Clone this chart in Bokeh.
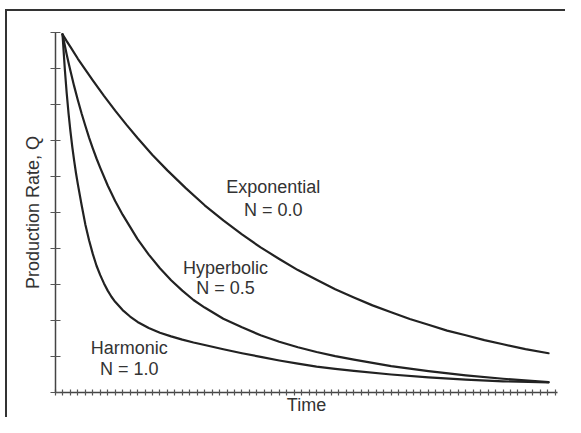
from bokeh.plotting import figure
from bokeh.models import FixedTicker, Range1d, ColumnDataSource, CustomLabelingPolicy
from bokeh.core.properties import value
from bokeh.embed import file_html
from bokeh.resources import INLINE

# ---- data (time units, production-rate units) ----
t_exp = [0.94, 1.5, 2, 3, 4, 5, 6.5, 8, 9.5, 11, 13, 15, 17.5, 20, 22.5, 25, 27.5, 30, 32.5,
         35, 37.5, 40, 42.5, 45, 47.5, 50, 52.5, 55, 57.5, 60, 63, 66.1]
q_exp = [9.95, 9.76, 9.60, 9.27, 8.97, 8.67, 8.24, 7.83, 7.44, 7.07, 6.60, 6.17, 5.67, 5.20, 4.78,
         4.39, 4.03, 3.71, 3.40, 3.13, 2.87, 2.64, 2.42, 2.23, 2.04, 1.88, 1.72, 1.59, 1.455, 1.34,
         1.206, 1.09]

t_hyp = [0.94, 1.25, 1.5, 1.75, 2, 2.5, 3, 3.5, 4, 4.5, 5, 5.5, 6, 7, 8, 9, 10, 11, 12.5, 14,
         15.5, 17, 18.5, 20, 22.5, 25, 27.5, 30, 32.5, 35, 37.5, 40, 45, 50, 55, 60, 66.1]
q_hyp = [9.95, 9.64, 9.39, 9.16, 8.94, 8.51, 8.12, 7.75, 7.41, 7.08, 6.78, 6.50, 6.24, 5.75, 5.32,
         4.94, 4.60, 4.26, 3.83, 3.45, 3.12, 2.83, 2.57, 2.36, 2.05, 1.81, 1.59, 1.41, 1.256, 1.124,
         1.01, 0.911, 0.732, 0.595, 0.477, 0.382, 0.29]

t_har = [0.94, 1.25, 1.5, 1.75, 2.0, 2.25, 2.5, 2.75, 3.0, 3.5, 4.0, 4.5, 5.0, 5.5, 6.0, 6.5, 7.0,
         7.5, 8.0, 9.0, 10.0, 11.0, 12.5, 14.0, 15.5, 17.0, 18.5, 20, 22.5, 25, 27.5, 30, 32.5, 35,
         37.5, 40, 45, 50, 55, 60, 66.1]
q_har = [9.95, 8.98, 8.32, 7.75, 7.26, 6.82, 6.44, 6.09, 5.78, 5.21, 4.67, 4.23, 3.85, 3.52, 3.26,
         3.03, 2.83, 2.66, 2.52, 2.29, 2.11, 1.96, 1.79, 1.66, 1.56, 1.47, 1.39, 1.32, 1.20, 1.09,
         0.99, 0.89, 0.80, 0.72, 0.655, 0.60, 0.50, 0.42, 0.355, 0.31, 0.28]

x_ticks = list(range(0, 68))
y_ticks = list(range(0, 11))

label_texts = ["Exponential", "N = 0.0", "Hyperbolic", "N = 0.5", "Harmonic", "N = 1.0"]
label_x = [29.2, 29.2, 22.8, 22.8, 9.9, 9.9]
label_y = [5.71, 5.08, 3.45, 2.90, 1.25, 0.65]

FONT = "Liberation Sans"
INK = "#222222"
AXIS = "#444444"
TXT = "#333333"

# page frame of the original figure: only its top and left edges are in view
frame_css = ("linear-gradient(#333333, #333333) 5px 9px / 2px 1000px no-repeat, "
             "linear-gradient(#333333, #333333) 5px 9px / 1000px 2px no-repeat, #ffffff")

p = figure(width=565, height=417, output_backend="svg", toolbar_location=None,
           x_range=Range1d(0, 67.3), y_range=Range1d(0, 10),
           min_border_left=55, min_border_right=8, min_border_top=32, min_border_bottom=22,
           styles={"background": frame_css})

p.xgrid.visible = False
p.ygrid.visible = False
p.outline_line_color = None
p.background_fill_color = None
p.border_fill_color = None

for t, q in [(t_exp, q_exp), (t_hyp, q_hyp), (t_har, q_har)]:
    p.line(t, q, line_color=INK, line_width=2.2, line_join="round", line_cap="round")

src = ColumnDataSource(dict(x=label_x, y=label_y, text=label_texts))
p.text(x="x", y="y", text="text", source=src, text_font=value(FONT), text_font_size="18px",
       text_color=TXT, text_align="center", text_baseline="middle")

no_labels = CustomLabelingPolicy(code="for (const i of indices) indices.unset(i)")

for ax, ticks, tin, tout, lab, stand in [(p.xaxis[0], x_ticks, 3, 3, "Time", -1),
                                         (p.yaxis[0], y_ticks, 5, 5, "Production Rate, Q", 8)]:
    ax.ticker = FixedTicker(ticks=ticks)
    ax.major_tick_in = tin
    ax.major_tick_out = tout
    ax.minor_tick_line_color = None
    ax.major_label_policy = no_labels
    ax.major_label_text_font_size = "0px"
    ax.major_label_standoff = 0
    ax.axis_line_color = AXIS
    ax.axis_line_width = 1.5
    ax.major_tick_line_color = "#555555"
    ax.major_tick_line_width = 1.2
    ax.axis_label = lab
    ax.axis_label_text_font = FONT
    ax.axis_label_text_font_style = "normal"
    ax.axis_label_text_font_size = "18px"
    ax.axis_label_text_color = TXT
    ax.axis_label_standoff = stand

open("out.html", "w").write(file_html(p, INLINE))
